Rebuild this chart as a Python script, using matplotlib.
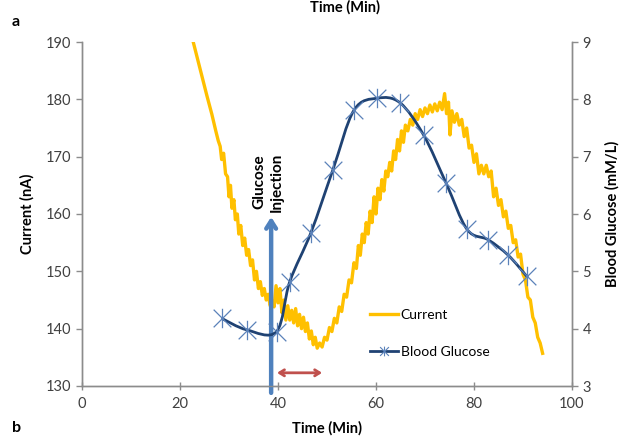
import matplotlib
matplotlib.use("Agg")
import matplotlib.pyplot as plt
from matplotlib.path import Path
from matplotlib.patches import PathPatch
from matplotlib.lines import Line2D

plt.rcParams['font.family'] = ['Lato', 'DejaVu Sans']

# ---------------- data ----------------
current_time = [22.7, 23.5, 24.5, 25.5, 26.5, 27.3, 27.8, 28.2, 28.5, 28.9, 29.3, 29.7,
                30.0, 30.3, 30.6, 31.0, 31.3, 31.7, 32.0, 32.4, 32.8, 33.2, 33.6, 34.0,
                34.4, 34.8, 35.2, 35.6, 36.0, 36.4, 36.8, 37.2, 37.6, 38.0, 38.4, 38.8,
                39.2, 39.6, 40.0, 40.4, 40.8, 41.2, 41.6, 42.0, 42.4, 42.8, 43.2, 43.6,
                44.0, 44.4, 44.8, 45.2, 45.6, 46.0, 46.4, 46.8, 47.2, 47.6, 48.0, 48.5,
                49.0, 49.5, 50.0, 50.5, 51.0, 51.5, 52.0, 52.5, 53.0, 53.5, 54.0, 54.5,
                55.0, 55.5, 56.0, 56.4, 56.8, 57.2, 57.6, 58.0, 58.4, 58.8, 59.2, 59.6,
                60.0, 60.4, 60.8, 61.2, 61.6, 62.0, 62.4, 62.8, 63.2, 63.6, 64.0, 64.4,
                64.8, 65.2, 65.6, 66.0, 66.5, 67.0, 67.5, 68.0, 68.5, 69.0, 69.5, 70.0,
                70.5, 71.0, 71.5, 72.0, 72.5, 73.0, 73.5, 74.0, 74.4, 74.8, 75.1, 75.5,
                76.0, 76.5, 77.0, 77.5, 78.0, 78.5, 79.0, 79.5, 80.0, 80.5, 81.0, 81.5,
                82.0, 82.5, 83.0, 83.5, 84.0, 84.5, 85.0, 85.5, 86.0, 86.5, 87.0, 87.5,
                88.0, 88.5, 89.0, 89.5, 90.0, 90.5, 91.0, 91.5, 92.0, 92.5, 93.0, 93.5,
                94.0]
current_na = [190.0, 187.3, 184.0, 180.6, 177.4, 174.5, 172.8, 171.8, 169.5, 170.6, 167.0, 166.5,
              163.0, 165.0, 161.0, 162.5, 159.0, 160.0, 156.5, 158.0, 154.5, 155.8, 152.8, 153.8,
              151.0, 152.0, 148.5, 150.0, 147.0, 148.2, 145.8, 147.0, 145.0, 146.0, 144.0, 144.8,
              143.8, 147.5, 144.5, 147.0, 142.8, 145.0, 141.5, 144.0, 141.5, 143.2, 141.0, 143.5,
              140.5, 142.5, 140.0, 142.0, 139.5, 141.0, 138.2, 139.6, 137.2, 138.5, 136.6, 137.5,
              136.8, 138.5, 138.0, 140.2, 139.5, 141.8, 141.0, 143.8, 143.0, 146.0, 145.5, 148.5,
              148.0, 151.5, 150.5, 154.5, 152.8, 156.5, 155.0, 158.5, 156.5, 160.5, 158.5, 163.0,
              160.0, 164.5, 162.5, 166.0, 164.0, 167.5, 166.5, 169.0, 167.5, 171.0, 169.5, 173.0,
              171.0, 174.5, 172.5, 175.5, 174.5, 176.5, 175.5, 177.5, 176.5, 178.2, 177.0, 178.5,
              177.5, 179.0, 177.8, 179.2, 178.0, 179.5, 178.2, 181.0, 177.5, 179.5, 173.8, 178.0,
              176.0, 177.5, 175.5, 176.5, 173.5, 175.0, 171.5, 172.0, 169.0, 170.5, 167.0, 168.5,
              167.0, 168.5, 166.5, 167.5, 163.0, 164.5, 161.5, 162.5, 159.5, 160.5, 157.5, 158.0,
              155.0, 155.5, 152.5, 153.0, 149.5, 148.5, 145.5, 145.0, 142.0, 141.0, 138.5, 137.5,
              135.7]

glucose_time = [28.5, 33.6, 39.7, 42.4, 46.7, 51.2, 55.5, 60.3, 64.9, 69.7, 74.3, 78.6, 82.9, 87.0, 90.8]
glucose_mm = [4.18, 3.98, 3.95, 4.82, 5.67, 6.77, 7.81, 8.02, 7.94, 7.38, 6.54, 5.73, 5.55, 5.28, 4.91]

x_ticks = [0, 20, 40, 60, 80, 100]
left_ticks = [130, 140, 150, 160, 170, 180, 190]
right_ticks = [3, 4, 5, 6, 7, 8, 9]

ORANGE = '#FFC000'
NAVY = '#1F4273'
MARK = '#5B82BA'
ARROW_BLUE = '#4F81BD'
ARROW_RED = '#C0504D'
SPINE = '#8C8C8C'
TXT = '#404040'

fig = plt.figure(figsize=(6.21, 4.37), dpi=100)
ax = fig.add_axes([82 / 621, 1 - 386 / 437, 490 / 621, 344 / 437])
ax2 = ax.twinx()

ax.set_xlim(0, 100)
ax.set_ylim(130, 190)
ax2.set_ylim(3, 9)
ax.set_xticks(x_ticks)
ax.set_yticks(left_ticks)
ax2.set_yticks(right_ticks)

for a in (ax, ax2):
    for s in a.spines.values():
        s.set_color(SPINE)
        s.set_linewidth(1.0)
    a.spines['top'].set_visible(False)
    a.tick_params(colors=SPINE, labelcolor=TXT, labelsize=10.5, length=4, width=1)
ax.tick_params(axis='x', direction='inout', length=6, pad=5)

# current
ax.plot(current_time, current_na, color=ORANGE, lw=2.4, zorder=2)

# glucose: smoothed line (Bezier through points) + star markers
verts = []
codes = []
pts = list(zip(glucose_time, glucose_mm))
n = len(pts)
verts.append(pts[0]); codes.append(Path.MOVETO)
for i in range(n - 1):
    p0 = pts[i - 1] if i > 0 else pts[i]
    p1 = pts[i]
    p2 = pts[i + 1]
    p3 = pts[i + 2] if i + 2 < n else pts[i + 1]
    c1 = (p1[0] + (p2[0] - p0[0]) / 6, p1[1] + (p2[1] - p0[1]) / 6)
    c2 = (p2[0] - (p3[0] - p1[0]) / 6, p2[1] - (p3[1] - p1[1]) / 6)
    verts += [c1, c2, p2]
    codes += [Path.CURVE4] * 3
ax2.add_patch(PathPatch(Path(verts, codes), facecolor='none', edgecolor=NAVY, lw=2.0, zorder=3))

star = Path([(-1, -1), (1, 1), (-1, 1), (1, -1), (0, -1.1), (0, 1.1)],
            [Path.MOVETO, Path.LINETO, Path.MOVETO, Path.LINETO, Path.MOVETO, Path.LINETO])
ax2.plot(glucose_time, glucose_mm, linestyle='none', marker=star, ms=14, mec=MARK,
         mew=0.9, mfc='none', zorder=4)

# arrows
ax.annotate('', xy=(38.6, 159.5), xytext=(38.6, 128.8), xycoords='data',
            arrowprops=dict(arrowstyle='->,head_length=0.55,head_width=0.35', color=ARROW_BLUE,
                            lw=3.2, shrinkA=0, shrinkB=0), annotation_clip=False, zorder=6)
ax.annotate('', xy=(49.0, 132.3), xytext=(39.8, 132.3),
            arrowprops=dict(arrowstyle='<->,head_length=0.35,head_width=0.22', color=ARROW_RED,
                            lw=2.0, shrinkA=0, shrinkB=0), zorder=6)
ax.text(38.0, 165.6, 'Glucose\nInjection', rotation=90, ha='center', va='center',
        fontsize=11, fontweight='bold', color='black', linespacing=1.25)

# labels
ax.set_ylabel('Current (nA)', fontsize=10.5, fontweight='bold', color='black', labelpad=8)
ax2.set_ylabel('Blood Glucose (mM/L)', fontsize=10.5, fontweight='bold', color='black',
               rotation=90, labelpad=10)
ax.set_xlabel('Time (Min)', fontsize=10.5, fontweight='bold', color='black', labelpad=7)
fig.text(345 / 621, 1.0, 'Time (Min)', ha='center', va='top', fontsize=10.5,
         fontweight='bold', color='black')
fig.text(12 / 621, 1 - 22 / 437, 'a', ha='left', va='center', fontsize=11.5, fontweight='bold')
fig.text(12 / 621, 1 - 428 / 437, 'b', ha='left', va='center', fontsize=11.5, fontweight='bold')

# legend
handles = [Line2D([], [], color=ORANGE, lw=2.4),
           Line2D([], [], color=NAVY, lw=2.0, marker=star, ms=7, mec=MARK, mew=0.8, mfc='none')]
leg = ax2.legend(handles, ['Current', 'Blood Glucose'], loc='upper left',
                 bbox_to_anchor=(370 / 621, 1 - 309 / 437), bbox_transform=fig.transFigure,
                 frameon=False, fontsize=10, handlelength=2.0, handletextpad=0.2,
                 labelspacing=1.80, borderpad=0, borderaxespad=0)
for t in leg.get_texts():
    t.set_color('black')

fig.savefig('out.png', dpi=100)
